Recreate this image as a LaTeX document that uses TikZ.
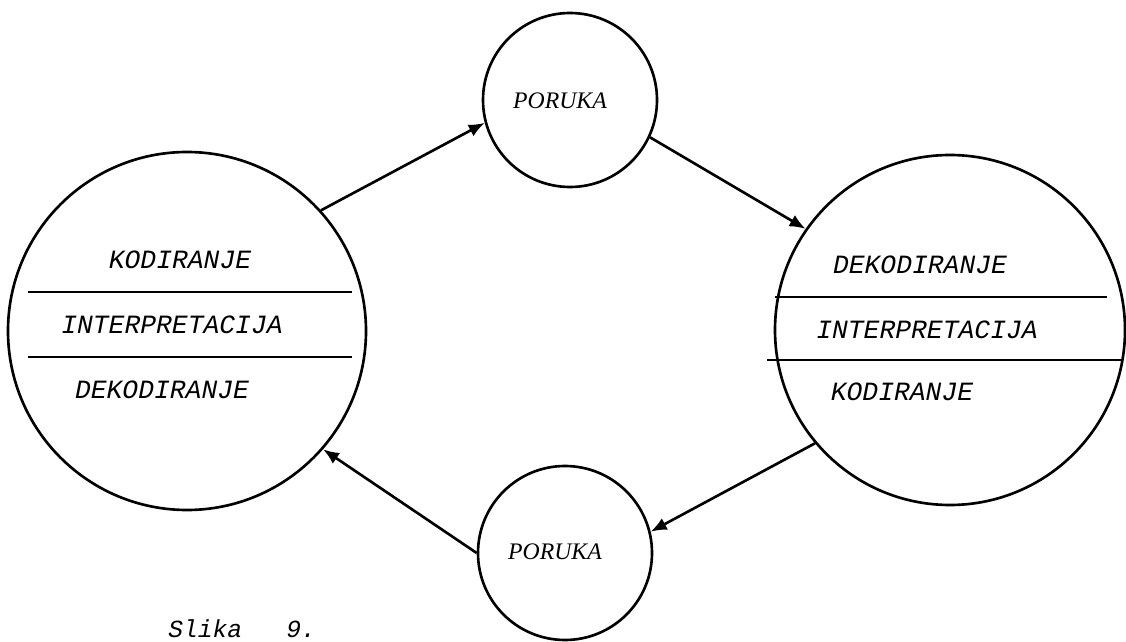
\documentclass[tikz,border=0pt]{standalone}
\usepackage{fontspec}
\usepackage{tikz}
\usetikzlibrary{arrows.meta,positioning}
\newfontfamily\typefont{Liberation Mono}
\newfontfamily\msgfont{Liberation Serif}

\tikzset{
    bigcirc/.style={draw, circle, line width=1.5pt, inner sep=0pt},
    smallcirc/.style={draw, circle, line width=1.5pt, inner sep=0pt, minimum size=174*0.2mm},
    steptext/.style={font=\typefont\itshape\fontsize{15}{17}\selectfont, inner sep=0pt},
    msgtext/.style={font=\msgfont\itshape\fontsize{13.5}{16}\selectfont, inner sep=0pt},
    flow/.style={line width=1.5pt, -{Latex[length=3.2mm,width=2.6mm]}},
    divider/.style={line width=1pt}
}

\begin{document}
\begin{tikzpicture}[x=0.2mm, y=-0.2mm]
    \useasboundingbox (0,0) rectangle (1126,642);

    % Sender
    \node[bigcirc, minimum size=358*0.2mm] (sender) at (187,331) {};
    \node[steptext] (kodS) at (180,260) {KODIRANJE};
    \node[steptext] (intS) at (172,325) {INTERPRETACIJA};
    \node[steptext] (dekS) at (162,390) {DEKODIRANJE};
    \draw[divider] (28,292) -- (352,292);
    \draw[divider] (28,357) -- (352,357);

    % Receiver
    \node[bigcirc, minimum size=350*0.2mm] (receiver) at (950,330) {};
    \node[steptext] (dekR) at (920,265) {DEKODIRANJE};
    \node[steptext] (intR) at (927,330) {INTERPRETACIJA};
    \node[steptext] (kodR) at (902,392) {KODIRANJE};
    \draw[divider] (775,297) -- (1107,297);
    \draw[divider] (767,360) -- (1123,360);

    % Messages
    \node[smallcirc] (msgTop) at (570,100) {};
    \node[msgtext] at (560,101) (porTop) {PORUKA};
    \node[smallcirc] (msgBot) at (565,553) {};
    \node[msgtext] at (555,552) (porBot) {PORUKA};

    % Flow
    \draw[flow] (sender.42) -- (msgTop.-165);
    \draw[flow] (msgTop.-25) -- (receiver.145);
    \draw[flow] (receiver.220) -- (msgBot.14);
    \draw[flow] (msgBot.180) -- (sender.-41);

    % Caption
    \node[steptext, font=\typefont\itshape\fontsize{14}{16}\selectfont, anchor=base west] (caption) at (168,637) {Slika~~~9.};
\end{tikzpicture}
\end{document}
